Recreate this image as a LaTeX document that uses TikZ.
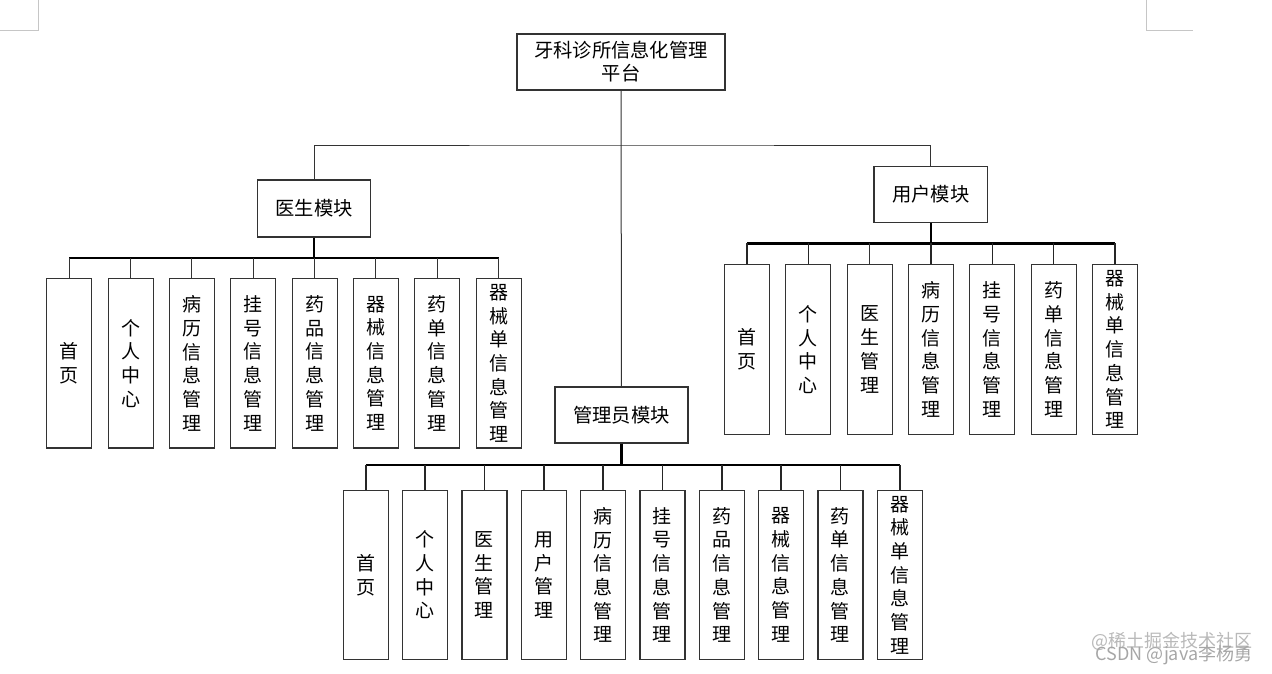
\documentclass[tikz,border=0pt]{standalone}
\usepackage{fontspec}
\newfontfamily\cjk{Noto Sans CJK SC}
\usepackage{tikz}
\usetikzlibrary{arrows}

\begin{document}
\begin{tikzpicture}[-,x=1pt,y=-1pt,
                    thin line/.style={line width=1pt,black!80},
                    bus line/.style={line width=2.4pt},
                    drop line/.style={line width=1.5pt,black!85},
                    top node/.style={draw=black!80,line width=1.2pt,fill=white,inner sep=2pt,
                                     font=\cjk\fontsize{19.3}{23}\selectfont,align=center},
                    leaf node/.style={draw=black!80,line width=1.2pt,fill=white,inner sep=0pt,
                                      minimum width=45pt,minimum height=169.5pt,text width=20pt,
                                      font=\cjk\fontsize{19}{23.7}\selectfont,align=center}]

  \useasboundingbox (0,0) rectangle (1272,673);

  %Page marks%
  \draw[gray!45,line width=1pt] (0,30) -- (38,30) -- (38,0);
  \draw[gray!45,line width=1pt] (1146,0) -- (1146,30) -- (1193,30);

  %Modules%
  \node[top node,minimum width=208pt,minimum height=56pt] (root) at (621,62) {牙科诊所信息化管理\\平台};
  \node[top node,minimum width=113.5pt,minimum height=57pt] (doc) at (314,208.5) {医生模块};
  \node[top node,minimum width=113.5pt,minimum height=56pt] (usr) at (930.7,194.2) {用户模块};
  \node[top node,minimum width=133pt,minimum height=56pt] (adm) at (621.5,415) {管理员模块};

  \coordinate (split) at (621,145);
  \coordinate (docbus) at (314,257.7);
  \coordinate (usrbus) at (930.7,243.3);
  \coordinate (admbus) at (621.5,465);

  %Doctor%
  \node[leaf node] (d1) at (69.3,363.3) {首\\页};
  \node[leaf node,node distance=61.33pt] (d2) [right of=d1] {个\\人\\中\\心};
  \node[leaf node,node distance=61.33pt] (d3) [right of=d2] {病\\历\\信\\息\\管\\理};
  \node[leaf node,node distance=61.33pt] (d4) [right of=d3] {挂\\号\\信\\息\\管\\理};
  \node[leaf node,node distance=61.33pt] (d5) [right of=d4] {药\\品\\信\\息\\管\\理};
  \node[leaf node,node distance=61.33pt] (d6) [right of=d5] {器\\械\\信\\息\\管\\理};
  \node[leaf node,node distance=61.33pt] (d7) [right of=d6] {药\\单\\信\\息\\管\\理};
  \node[leaf node,node distance=61.33pt] (d8) [right of=d7] {器\\械\\单\\信\\息\\管\\理};

  %User%
  \node[leaf node] (u1) at (747,349.5) {首\\页};
  \node[leaf node,node distance=61.33pt] (u2) [right of=u1] {个\\人\\中\\心};
  \node[leaf node,node distance=61.33pt] (u3) [right of=u2] {医\\生\\管\\理};
  \node[leaf node,node distance=61.33pt] (u4) [right of=u3] {病\\历\\信\\息\\管\\理};
  \node[leaf node,node distance=61.33pt] (u5) [right of=u4] {挂\\号\\信\\息\\管\\理};
  \node[leaf node,node distance=61.33pt] (u6) [right of=u5] {药\\单\\信\\息\\管\\理};
  \node[leaf node,node distance=61.33pt] (u7) [right of=u6] {器\\械\\单\\信\\息\\管\\理};

  %Admin%
  \node[leaf node] (a1) at (365.8,575) {首\\页};
  \node[leaf node,node distance=59.33pt] (a2) [right of=a1] {个\\人\\中\\心};
  \node[leaf node,node distance=59.33pt] (a3) [right of=a2] {医\\生\\管\\理};
  \node[leaf node,node distance=59.33pt] (a4) [right of=a3] {用\\户\\管\\理};
  \node[leaf node,node distance=59.33pt] (a5) [right of=a4] {病\\历\\信\\息\\管\\理};
  \node[leaf node,node distance=59.33pt] (a6) [right of=a5] {挂\\号\\信\\息\\管\\理};
  \node[leaf node,node distance=59.33pt] (a7) [right of=a6] {药\\品\\信\\息\\管\\理};
  \node[leaf node,node distance=59.33pt] (a8) [right of=a7] {器\\械\\信\\息\\管\\理};
  \node[leaf node,node distance=59.33pt] (a9) [right of=a8] {药\\单\\信\\息\\管\\理};
  \node[leaf node,node distance=59.33pt] (a10) [right of=a9] {器\\械\\单\\信\\息\\管\\理};

  %Root links%
  \draw[thin line] (root) -- (adm);
  \draw[thin line] (doc) |- (split) -| (usr);

  %Doctor links%
  \draw[bus line] (doc) -- (docbus);
  \draw[bus line] (d1.north |- docbus) -- (d8.north |- docbus);
  \draw[thin line] (d1.north) -- (d1.north |- docbus);
  \draw[thin line] (d2.north) -- (d2.north |- docbus);
  \draw[thin line] (d3.north) -- (d3.north |- docbus);
  \draw[thin line] (d4.north) -- (d4.north |- docbus);
  \draw[thin line] (d5.north) -- (d5.north |- docbus);
  \draw[thin line] (d6.north) -- (d6.north |- docbus);
  \draw[thin line] (d7.north) -- (d7.north |- docbus);
  \draw[thin line] (d8.north) -- (d8.north |- docbus);

  %User links%
  \draw[bus line] (usr) -- (usrbus);
  \draw[bus line] (u1.north |- usrbus) -- (u7.north |- usrbus);
  \draw[drop line] (u1.north) -- (u1.north |- usrbus);
  \draw[drop line] (u2.north) -- (u2.north |- usrbus);
  \draw[thin line] (u3.north) -- (u3.north |- usrbus);
  \draw[drop line] (u4.north) -- (u4.north |- usrbus);
  \draw[drop line] (u5.north) -- (u5.north |- usrbus);
  \draw[drop line] (u6.north) -- (u6.north |- usrbus);
  \draw[drop line] (u7.north) -- (u7.north |- usrbus);

  %Admin links%
  \draw[bus line] (adm) -- (admbus);
  \draw[bus line] (a1.north |- admbus) -- (a10.north |- admbus);
  \draw[drop line] (a1.north) -- (a1.north |- admbus);
  \draw[drop line] (a2.north) -- (a2.north |- admbus);
  \draw[drop line] (a3.north) -- (a3.north |- admbus);
  \draw[drop line] (a4.north) -- (a4.north |- admbus);
  \draw[drop line] (a5.north) -- (a5.north |- admbus);
  \draw[drop line] (a6.north) -- (a6.north |- admbus);
  \draw[drop line] (a7.north) -- (a7.north |- admbus);
  \draw[drop line] (a8.north) -- (a8.north |- admbus);
  \draw[drop line] (a9.north) -- (a9.north |- admbus);
  \draw[drop line] (a10.north) -- (a10.north |- admbus);

  %Watermark%
  \node[gray!55,font=\cjk\fontsize{18}{18}\selectfont,inner sep=0pt] (mark1) at (1172,641) {@稀土掘金技术社区};
  \node[gray!70,font=\cjk\fontsize{18}{18}\selectfont,inner sep=0pt] (mark2) at (1174,655) {CSDN @java李杨勇};
\end{tikzpicture}
\end{document}
